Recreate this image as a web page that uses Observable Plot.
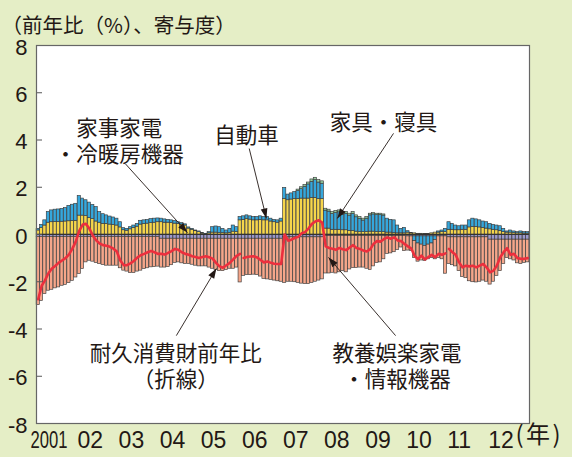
<!DOCTYPE html>
<html><head><meta charset="utf-8">
<script src="https://cdn.jsdelivr.net/npm/d3@7"></script>
<script src="https://cdn.jsdelivr.net/npm/@observablehq/plot@0.6"></script>
<style>
html,body{margin:0;padding:0;background:#e5eec6;}
#chart{width:572px;height:457px;overflow:hidden;}
</style></head><body><div id="chart"></div>
<script>
// ---------- data ----------
const startYear = 2001;
const yearLabels = ["2001","02","03","04","05","06","07","08","09","10","11","12"];
const unitLabel = "(年)";
const titleText = "（前年比（%）、寄与度）";
const yTickValues = [-8,-6,-4,-2,0,2,4,6,8];

const seriesNames = ["家事家電・冷暖房機器","自動車","家具・寝具","その他","教養娯楽家電・情報機器"];
const seriesColors = ["#9b98cc","#f6d64b","#35a7dc","#93cfa0","#f5a68a"];

// 教養娯楽家電・情報機器 (monthly, 2001-2012)
const avInfo = [
 -2.89,-2.71,-2.42,-2.28,-2.24,-2.18,-2.14,-2.07,-2.03,-1.96,-1.86,-1.72,
 -1.57,-1.36,-1.08,-1.01,-1.05,-1.11,-1.15,-1.19,-1.22,-1.22,-1.22,-1.22,
 -1.33,-1.43,-1.47,-1.53,-1.53,-1.47,-1.43,-1.36,-1.33,-1.29,-1.28,-1.26,
 -1.22,-1.22,-1.20,-1.12,-1.02,-1.00,-1.04,-1.07,-1.07,-1.10,-1.14,-1.17,
 -1.17,-1.17,-1.22,-1.27,-1.32,-1.37,-1.37,-1.32,-1.27,-1.27,-1.22,-1.85,
 -1.57,-1.54,-1.54,-1.52,-1.54,-1.60,-1.70,-1.72,-1.74,-1.77,-1.80,-1.82,
 -1.93,-1.88,-1.88,-1.90,-1.93,-1.96,-1.98,-1.98,-1.93,-1.88,-1.83,-1.78,
 -1.59,-1.59,-1.56,-1.59,-1.54,-1.49,-1.54,-1.42,-1.36,-1.36,-1.34,-1.34,
 -1.39,-1.44,-1.29,-1.14,-1.12,-0.99,-0.76,-0.74,-0.69,-0.59,-0.49,-0.64,
 -0.60,-0.62,-0.72,-0.77,-0.67,-0.64,-0.62,-0.62,-0.82,-0.92,-0.97,-1.58,
 -1.13,-1.18,-1.23,-1.43,-1.68,-1.73,-1.86,-1.90,-1.91,-1.88,-1.83,-1.88,
 -1.90,-1.78,-1.53,-1.33,-1.03,-0.78,-0.83,-0.88,-1.00,-1.03,-0.98,-0.96
];
// 家事家電・冷暖房機器
const homeAppl = [
 -0.10,-0.10,-0.10,-0.10,-0.10,-0.10,-0.10,-0.10,-0.10,-0.10,-0.10,-0.10,
 -0.10,-0.10,-0.10,-0.10,-0.10,-0.10,-0.10,-0.10,-0.10,-0.10,-0.10,-0.10,
 -0.10,-0.10,-0.10,-0.10,-0.10,-0.10,-0.10,-0.10,-0.10,-0.10,-0.10,-0.10,
 -0.18,-0.18,-0.18,-0.18,-0.18,-0.18,-0.18,-0.18,-0.18,-0.18,-0.18,-0.18,
 -0.18,-0.18,-0.18,-0.18,-0.18,-0.18,-0.18,-0.18,-0.18,-0.18,-0.18,-0.18,
 -0.18,-0.18,-0.18,-0.18,-0.18,-0.18,-0.18,-0.18,-0.18,-0.18,-0.18,-0.18,
 -0.12,-0.12,-0.12,-0.12,-0.12,-0.12,-0.12,-0.12,-0.12,-0.12,-0.12,-0.12,
 -0.06,-0.06,-0.06,-0.06,-0.06,-0.06,-0.06,-0.06,-0.06,-0.06,-0.06,-0.06,
 -0.06,-0.06,-0.06,-0.06,-0.06,-0.06,-0.06,-0.06,-0.06,-0.06,-0.06,-0.06,
 -0.08,-0.08,-0.08,-0.08,-0.08,-0.08,-0.08,-0.08,-0.08,-0.08,-0.08,-0.08,
 -0.12,-0.12,-0.12,-0.12,-0.12,-0.12,-0.12,-0.12,-0.12,-0.12,-0.12,-0.12,
 -0.22,-0.22,-0.22,-0.22,-0.22,-0.22,-0.22,-0.22,-0.22,-0.22,-0.22,-0.22
];
// 自動車
const autos = [
 0.17,0.27,0.38,0.50,0.52,0.53,0.53,0.54,0.55,0.56,0.57,0.58,
 0.80,0.80,0.78,0.70,0.65,0.55,0.50,0.45,0.45,0.42,0.40,0.38,
 0.30,0.18,0.16,0.22,0.28,0.33,0.42,0.44,0.46,0.48,0.50,0.52,
 0.52,0.50,0.50,0.48,0.46,0.44,0.42,0.38,0.25,0.20,0.14,0.10,
 0.04,0.02,0.05,0.08,0.08,0.06,0.06,0.05,0.07,0.12,0.10,0.60,
 0.62,0.65,0.63,0.60,0.60,0.62,0.60,0.60,0.55,0.52,0.50,0.55,
 1.50,1.45,1.48,1.50,1.50,1.52,1.52,1.52,1.55,1.55,1.50,1.50,
 0.25,0.25,0.20,0.20,0.20,0.18,0.18,0.15,0.15,0.12,0.10,0.10,
 0.10,0.12,0.12,0.10,0.10,0.10,0.08,0.08,0.06,0.05,0.05,0.05,
 0.08,0.05,0.05,0.03,0.03,0.02,0.02,0.05,0.08,0.08,0.10,0.10,
 0.20,0.20,0.18,0.18,0.20,0.20,0.30,0.32,0.32,0.30,0.28,0.25,
 0.22,0.20,0.18,0.15,0.10,0.08,0.08,0.06,0.05,0.05,0.04,0.04
];
// 家具・寝具
const furniture = [
 0.07,0.14,0.22,0.45,0.50,0.52,0.53,0.54,0.57,0.65,0.69,0.72,
 0.83,0.72,0.67,0.65,0.60,0.61,0.45,0.41,0.36,0.34,0.32,0.29,
 0.22,0.09,0.08,0.09,0.10,0.12,0.16,0.16,0.16,0.17,0.17,0.16,
 0.15,0.14,0.12,0.12,0.11,0.08,0.06,0.05,0.05,0.04,0.03,0.03,
 0.02,0.01,0.05,0.23,0.26,0.25,0.18,0.12,0.17,0.26,0.21,0.14,
 0.15,0.16,0.14,0.14,0.14,0.15,0.14,0.14,0.12,0.10,0.10,0.12,
 0.47,0.24,0.26,0.30,0.34,0.40,0.50,0.60,0.68,0.75,0.70,0.65,
 0.76,0.72,0.67,0.71,0.74,0.65,0.69,0.65,0.72,0.61,0.56,0.49,
 0.57,0.69,0.73,0.72,0.72,0.70,0.59,0.54,0.54,0.33,0.19,0.23,
 0.06,0.02,-0.20,-0.30,-0.35,-0.40,-0.35,-0.30,-0.15,0.05,0.07,0.14,
 0.32,0.25,0.20,0.17,0.18,0.18,0.30,0.35,0.32,0.30,0.27,0.27,
 0.23,0.21,0.20,0.20,0.14,0.05,0.09,0.07,0.05,0.08,0.06,0.06
];
// その他
const others = [
 0,0,0,0,0,0,0,0,0,0,0,0,
 0,0,0,0,0,0,0,0,0,0,0,0,
 0,0,0,0,0,0,0,0,0,0,0,0,
 0,0,0,0,0,0,0,0,0,0,0,0,
 0,0,0,0,0,0,0,0,0,0,0,0,
 0,0,0,0,0,0,0,0,0,0,0,0,
 0,0,0,0,0.06,0.08,0.08,0.08,0.10,0.10,0.10,0.10,
 0.08,0.08,0.08,0.08,0.08,0.08,0.08,0.08,0.08,0.08,0.08,0.08,
 0.07,0.07,0.06,0.06,0.06,0.05,0,0,0,0,0,0,
 0,0,0,0,0,0,0,0,0,0,0,0,
 0,0,0,0,0,0,0,0,0,0,0,0,
 0,0,0,0,0,0,0,0,0,0,0,0
];
// 耐久消費財前年比 (line)
const durableYoY = [
 -2.74,-2.17,-1.95,-1.65,-1.45,-1.33,-1.20,-1.10,-1.00,-0.85,-0.60,-0.30,
 0.15,0.42,0.45,0.25,-0.04,-0.25,-0.38,-0.45,-0.48,-0.52,-0.60,-0.72,
 -1.10,-1.30,-1.30,-1.22,-1.12,-0.98,-0.88,-0.82,-0.75,-0.70,-0.75,-0.82,
 -0.82,-0.85,-0.78,-0.70,-0.61,-0.65,-0.75,-0.82,-0.86,-0.92,-0.95,-0.99,
 -0.95,-0.92,-0.96,-1.02,-1.20,-1.35,-1.41,-1.30,-1.20,-1.05,-0.90,-0.82,
 -0.99,-0.95,-0.93,-0.92,-0.97,-1.08,-1.18,-1.14,-1.20,-1.24,-1.25,-1.25,
 0.00,-0.26,-0.22,-0.15,-0.10,0.05,0.10,0.25,0.45,0.55,0.60,0.50,
 -0.50,-0.57,-0.60,-0.65,-0.57,-0.62,-0.66,-0.55,-0.45,-0.57,-0.61,-0.68,
 -0.72,-0.62,-0.40,-0.28,-0.30,-0.20,-0.12,-0.18,-0.12,-0.25,-0.28,-0.40,
 -0.50,-0.60,-0.90,-1.04,-0.89,-1.05,-0.96,-0.86,-0.96,-0.82,-0.86,-0.80,
 -0.61,-0.75,-0.86,-1.18,-1.39,-1.32,-1.35,-1.32,-1.39,-1.32,-1.25,-1.39,
 -1.60,-1.53,-1.32,-0.96,-0.75,-0.58,-0.86,-0.82,-1.00,-1.03,-1.03,-1.00
];
// CPI base year of each calendar year (line is broken at base revisions)
const baseByYear = ["2000年基準","2000年基準","2000年基準","2000年基準","2000年基準",
  "2005年基準","2005年基準","2005年基準","2005年基準","2005年基準",
  "2010年基準","2010年基準"];

const seriesValues = [homeAppl, autos, furniture, others, avInfo];

// ---------- layout (annotation positions: month index from Jan 2001, value) ----------
const annotLabels = [
  {text:"家事家電\n・冷暖房機器", m:24.2, v:3.96},
  {text:"自動車", m:61.3, v:4.23},
  {text:"家具・寝具", m:101.4, v:4.78},
  {text:"耐久消費財前年比\n（折線）", m:40.7, v:-5.54},
  {text:"教養娯楽家電\n・情報機器", m:105.3, v:-5.54}
];
const annotArrows = [
  {m1:26.0, v1:3.00, m2:44.1, v2:0.08},
  {m1:62.2, v1:3.64, m2:67.2, v2:0.68},
  {m1:104.3, v1:4.28, m2:87.9, v2:0.68},
  {m1:40.9, v1:-4.28, m2:52.6, v2:-1.44},
  {m1:104.9, v1:-4.28, m2:85.3, v2:-0.97}
];

// ---------- build ----------
const monthDate = (m) => {
  const mi = Math.floor(m);
  return new Date(Date.UTC(startYear, mi, 1) + (m - mi) * 30.44 * 864e5);
};
const nMonths = durableYoY.length;
const barData = [];
seriesValues.forEach((vals, s) => {
  vals.forEach((v, i) => barData.push({date: new Date(Date.UTC(startYear, i, 1)), series: seriesNames[s], value: v}));
});
const lineData = durableYoY.map((v, i) => ({
  date: new Date(Date.UTC(startYear, i, 16)),
  value: v,
  base: baseByYear[Math.floor(i / 12)]
}));
const yearTicks = yearLabels.map((_, k) => new Date(Date.UTC(startYear + k, 0, 1)));
const innerTicks = yTickValues.filter(d => Math.abs(d) < 8);

const numFont = "'Liberation Sans', Arial, sans-serif";
const jpFont = "'Noto Sans CJK JP', sans-serif";
const ink = "#231815";

const plot = Plot.plot({
  width: 572, height: 457,
  marginLeft: 36, marginRight: 43, marginTop: 45, marginBottom: 34,
  style: {background: "#e5eec6", fontFamily: numFont, color: ink, overflow: "visible"},
  x: {type: "utc", domain: [new Date(Date.UTC(startYear, 0, 1)), new Date(Date.UTC(startYear, nMonths, 1))], axis: null},
  y: {domain: [-8, 8], axis: null},
  color: {domain: seriesNames, range: seriesColors},
  marks: [
    Plot.frame({fill: "white"}),
    Plot.rectY(barData, {x: "date", interval: d3.utcMonth, y: "value", fill: "series",
      order: seriesNames, stroke: "#3a3a3a", strokeWidth: 0.65, insetLeft: 0.15, insetRight: 0.15}),
    Plot.ruleY([0], {stroke: "#333", strokeWidth: 1}),
    Plot.lineY(lineData, {x: "date", y: "value", z: "base", stroke: "#ec2f3d", strokeWidth: 2.6, strokeLinejoin: "round"}),
    Plot.tickY(innerTicks, {y: d => d, stroke: "#555", insetRight: 487}),
    Plot.frame({stroke: "#666", strokeWidth: 1.2}),
    Plot.axisY(yTickValues, {tickSize: 0, tickPadding: 9, fontSize: 22, dy: 2, tickFormat: d => String(d), fill: ink}),
    Plot.axisX(yearTicks, {tickSize: 0, tickPadding: 8, fontSize: 23, textAnchor: "start",
      tickFormat: d => yearLabels[d.getUTCFullYear() - startYear], fill: ink}),
    Plot.text([titleText], {frameAnchor: "top-left", dx: -35, dy: -27, textAnchor: "start", fontSize: 20.5, fontFamily: jpFont, fill: ink}),
    Plot.text([unitLabel], {frameAnchor: "bottom-right", dx: -14, dy: 19, textAnchor: "start", fontSize: 24, fontFamily: jpFont, fill: ink, className: "unit-label"}),
    Plot.link(annotArrows, {x1: d => monthDate(d.m1), y1: "v1", x2: d => monthDate(d.m2), y2: "v2",
      stroke: ink, strokeWidth: 0.9, className: "annot-arrow"}),
    Plot.text(annotLabels, {x: d => monthDate(d.m), y: "v", text: "text", lineHeight: 1.2, fontSize: 21.5, fontFamily: jpFont, fill: ink})
  ]
});

// custom filled arrowheads for the annotation leaders
const svg = d3.select(plot);
const defs = svg.append("defs");
defs.append("marker").attr("id", "annot-head").attr("viewBox", "0 0 10 8")
  .attr("refX", 10).attr("refY", 4).attr("markerWidth", 11).attr("markerHeight", 8)
  .attr("markerUnits", "userSpaceOnUse").attr("orient", "auto")
  .append("path").attr("d", "M0,0.6L10,4L0,7.4Z").attr("fill", ink);
svg.selectAll(".annot-arrow path").attr("marker-end", "url(#annot-head)");
svg.selectAll(".unit-label text").style("letter-spacing", "2.5px");

// condensed first year label
svg.selectAll("text").each(function() {
  if (this.textContent === yearLabels[0]) {
    this.setAttribute("textLength", 37);
    this.setAttribute("lengthAdjust", "spacingAndGlyphs");
    this.setAttribute("x", (+this.getAttribute("x") || 0) - 6);
  }
});

document.getElementById("chart").appendChild(plot);
</script></body></html>
